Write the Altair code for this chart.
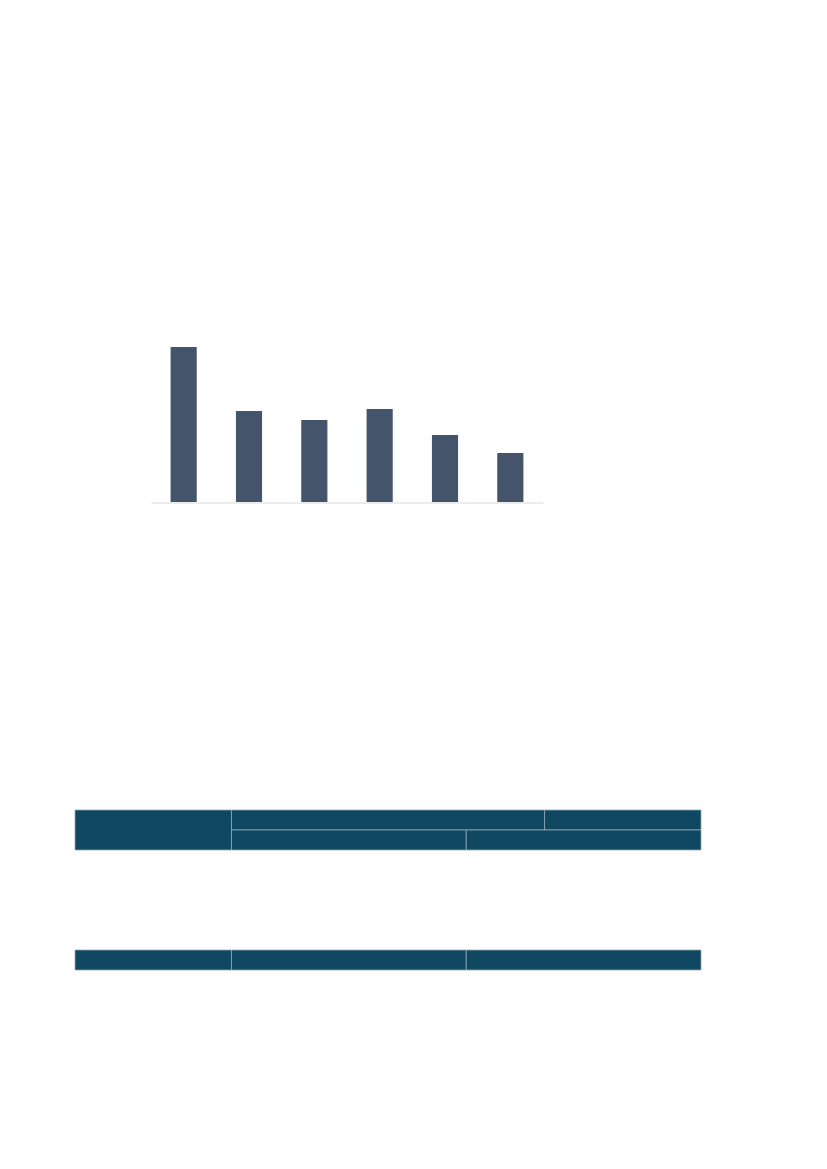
import altair as alt
import pandas as pd

# Bar chart data (no labels visible in the reference)
bar_categories = ["A", "B", "C", "D", "E", "F"]
bar_values = [15.5, 9.1, 8.2, 9.3, 6.7, 4.9]

# Table structure: header/footer cells on an 8-unit column grid and 8-row grid
cell_col_start = [0, 2, 6, 2, 5, 0, 2, 5]
cell_col_end = [2, 6, 8, 5, 8, 2, 5, 8]
cell_row_start = [0, 0, 0, 1, 1, 7, 7, 7]
cell_row_end = [2, 1, 1, 2, 2, 8, 8, 8]

bars_df = pd.DataFrame({"cat": bar_categories, "val": bar_values})
cells_df = pd.DataFrame({
    "c0": cell_col_start, "c1": cell_col_end,
    "r0": cell_row_start, "r1": cell_row_end,
})

bars = alt.Chart(bars_df).mark_bar(color="#44546A").encode(
    x=alt.X("cat:N", sort=None,
            scale=alt.Scale(range=[143, 535], paddingInner=0.6, paddingOuter=0.3),
            axis=alt.Axis(title=None, labels=False, ticks=False, domain=True,
                          domainColor="#D9D9D9", domainWidth=1, grid=False,
                          orient="top", offset=-494.5)),
    y=alt.Y("val:Q", scale=alt.Scale(domain=[0, 15.5], range=[494, 339], nice=False, zero=True),
            axis=None),
)

table = alt.Chart(cells_df).mark_rect(
    fill="#104761", stroke="#8FA9B8", strokeWidth=0.8
).encode(
    x=alt.X("c0:Q", scale=alt.Scale(domain=[0, 8], range=[67, 693], nice=False, zero=False), axis=None),
    x2="c1:Q",
    y=alt.Y("r0:Q", scale=alt.Scale(domain=[0, 8], range=[802, 962], nice=False, zero=False), axis=None),
    y2="r1:Q",
)

chart = alt.layer(bars, table).resolve_scale(
    x="independent", y="independent"
).resolve_axis(x="independent", y="independent").properties(
    width=800, height=1140, padding=0, background="white"
).configure_view(strokeWidth=0)

chart.save("out.html", embed_options={"renderer": "svg", "actions": False})
